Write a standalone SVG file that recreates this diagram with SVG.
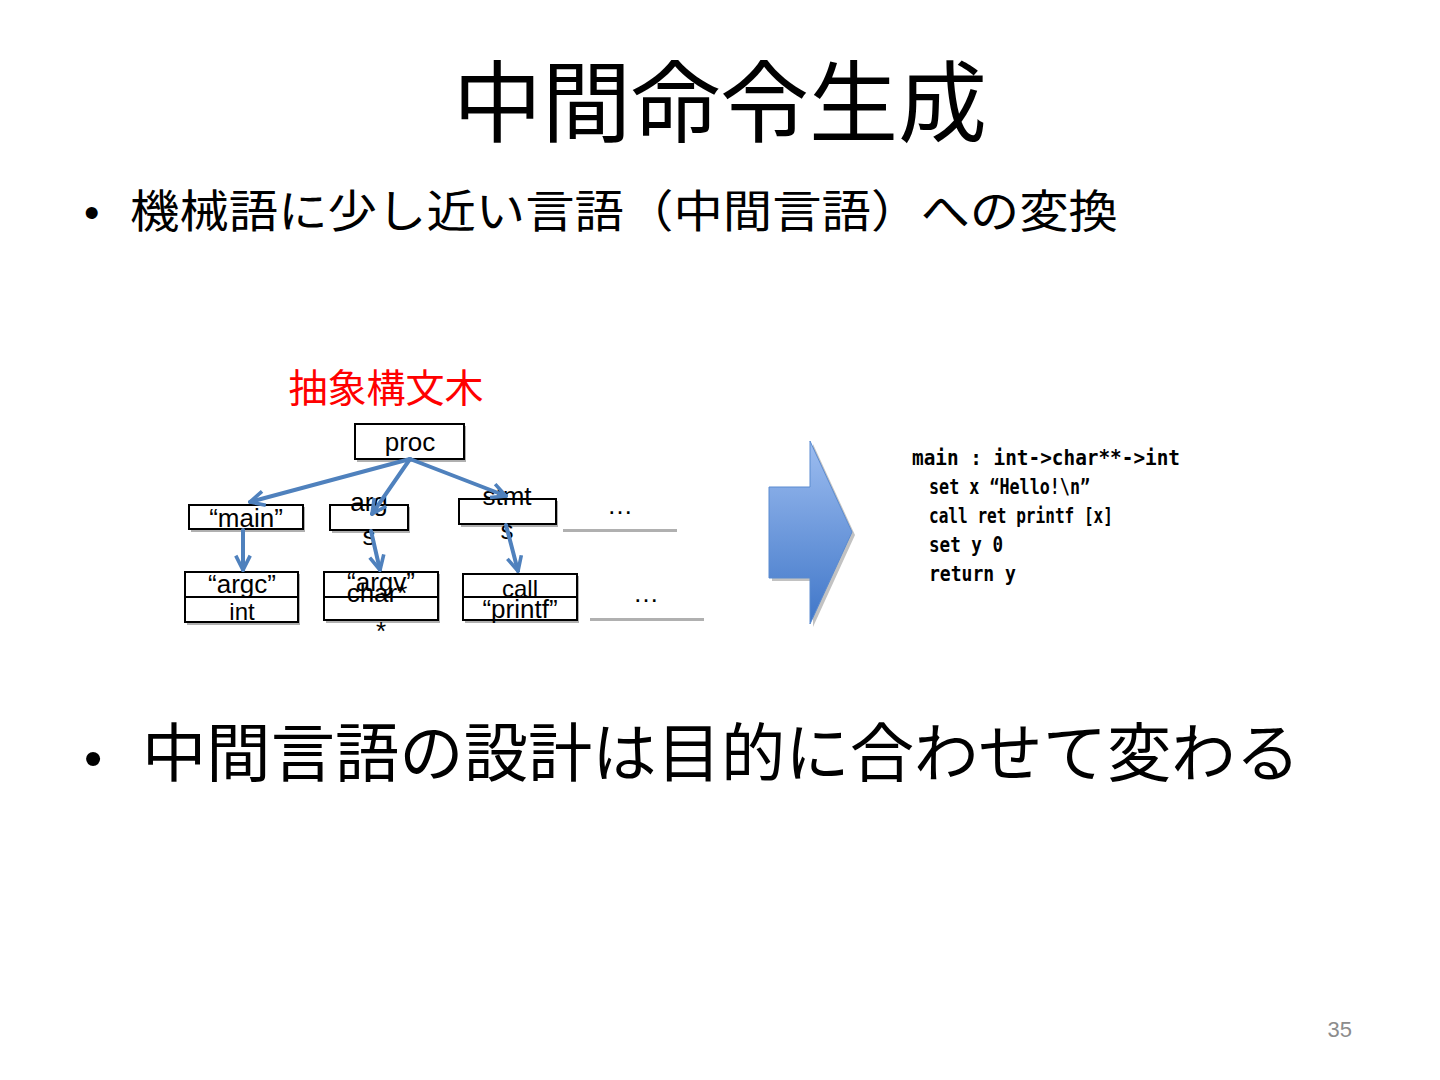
<svg xmlns="http://www.w3.org/2000/svg" width="1440" height="1080" viewBox="0 0 1440 1080">
<defs>
<style>
.jp{font-family:"Liberation Sans","Noto Sans CJK JP",sans-serif;}
.lbl{font-family:"Liberation Sans","Noto Sans CJK JP",sans-serif;font-size:26px;text-anchor:middle;fill:#000;}
.lbl2{font-family:"Liberation Sans","Noto Sans CJK JP",sans-serif;font-size:24px;text-anchor:middle;fill:#000;}
.box{fill:#fff;stroke:#000;stroke-width:2;}
.sh{fill:#b0b0b0;}
.code{font-family:"DejaVu Sans Mono","Liberation Mono",monospace;font-size:22px;font-weight:bold;fill:#000;}
.edge{stroke:#4f81bd;stroke-width:4;fill:none;stroke-linecap:round;}
</style>
<marker id="ah" viewBox="0 0 10 10" refX="9" refY="5" markerWidth="4.5" markerHeight="4.5" orient="auto" markerUnits="strokeWidth">
<path d="M1,1 L9,5 L1,9" fill="none" stroke="#4f81bd" stroke-width="2"/>
</marker>
<linearGradient id="bg" x1="0" y1="0" x2="0" y2="1">
<stop offset="0" stop-color="#9dbdf0"/>
<stop offset="1" stop-color="#3f76c8"/>
</linearGradient>
</defs>
<rect width="1440" height="1080" fill="#fff"/>

<text class="jp" x="720" y="135" font-size="89" text-anchor="middle">中間命令生成</text>
<g id="bullet1">
<text class="jp" x="84" y="228" font-size="44">•</text>
<text class="jp" x="130" y="228" font-size="45" textLength="988" lengthAdjust="spacingAndGlyphs">機械語に少し近い言語（中間言語）への変換</text>
</g>
<g id="bullet2">
<text class="jp" x="84" y="776" font-size="52">•</text>
<text class="jp" x="142" y="776" font-size="64" textLength="1158" lengthAdjust="spacingAndGlyphs">中間言語の設計は目的に合わせて変わる</text>
</g>
<text class="jp" x="1352" y="1037" font-size="22" fill="#8c8c8c" text-anchor="end">35</text>

<text id="ast-title" class="jp" x="386" y="402" font-size="39" fill="#ff0000" text-anchor="middle">抽象構文木</text>

<g id="n-proc"><rect class="sh" x="357" y="426" width="109" height="36"/><rect class="box" x="355" y="424" width="109" height="35"/><text class="lbl" x="410" y="451">proc</text></g>
<g id="n-main"><rect class="sh" x="191" y="507" width="114" height="25"/><rect class="box" x="189" y="505" width="114" height="24"/><text class="lbl" x="246" y="527">“main”</text></g>
<g id="n-args"><rect class="sh" x="332" y="507" width="78" height="26"/><rect class="box" x="330" y="505" width="78" height="25"/><text class="lbl" x="369" y="511">arg</text><text class="lbl" x="369" y="545">s</text></g>
<g id="n-stmts"><rect class="sh" x="461" y="501" width="97" height="26"/><rect class="box" x="459" y="499" width="97" height="25"/><text class="lbl" x="507" y="505">stmt</text><text class="lbl" x="507" y="539">s</text></g>
<g id="n-dots1"><rect x="563" y="492" width="113" height="38" fill="#fff"/><rect class="sh" x="563" y="529" width="114" height="3"/><text class="lbl" x="620" y="514">…</text></g>
<g id="n-argc"><rect class="sh" x="187" y="574" width="113" height="51"/><rect class="box" x="185" y="572" width="113" height="25"/><rect class="box" x="185" y="597" width="113" height="25"/><text class="lbl" x="242" y="593">“argc”</text><text class="lbl2" x="242" y="620">int</text></g>
<g id="n-argv"><rect class="sh" x="326" y="574" width="114" height="49"/><rect class="box" x="324" y="572" width="114" height="25"/><rect class="box" x="324" y="597" width="114" height="23"/><text class="lbl" x="381" y="591">“argv”</text><text class="lbl" x="377" y="602">char*</text><text class="lbl" x="381" y="640">*</text></g>
<g id="n-call"><rect class="sh" x="465" y="576" width="114" height="47"/><rect class="box" x="463" y="574" width="114" height="23"/><rect class="box" x="463" y="597" width="114" height="23"/><text class="lbl2" x="520" y="597">call</text><text class="lbl" x="520" y="618">“printf”</text></g>
<g id="n-dots2"><rect x="590" y="578" width="113" height="41" fill="#fff"/><rect class="sh" x="590" y="618" width="114" height="3"/><text class="lbl" x="646" y="602">…</text></g>

<g id="connectors">
<line class="edge" x1="410" y1="459" x2="250" y2="502" marker-end="url(#ah)"/>
<line class="edge" x1="410" y1="459" x2="372" y2="514" marker-end="url(#ah)"/>
<line class="edge" x1="410" y1="459" x2="506" y2="496" marker-end="url(#ah)"/>
<line class="edge" x1="243" y1="530" x2="243" y2="570" marker-end="url(#ah)"/>
<line class="edge" x1="371" y1="531" x2="380" y2="570" marker-end="url(#ah)"/>
<line class="edge" x1="506" y1="525" x2="518" y2="571" marker-end="url(#ah)"/>
</g>

<g id="big-arrow">
<path d="M772,490 L813,490 L813,444 L855,535 L813,627 L813,581 L772,581 Z" fill="#999" opacity="0.6"/>
<path d="M769,487 L810,487 L810,441 L852,532 L810,624 L810,578 L769,578 Z" fill="url(#bg)" stroke="#5b8bd0" stroke-width="1"/>
</g>

<g id="code">
<text class="code" x="912" y="465" textLength="268" lengthAdjust="spacingAndGlyphs">main : int-&gt;char**-&gt;int</text>
<text class="code" x="929" y="494" textLength="161" lengthAdjust="spacingAndGlyphs">set x “Hello!\n”</text>
<text class="code" x="929" y="523" textLength="184" lengthAdjust="spacingAndGlyphs">call ret printf [x]</text>
<text class="code" x="929" y="552" textLength="74" lengthAdjust="spacingAndGlyphs">set y 0</text>
<text class="code" x="929" y="581" textLength="87" lengthAdjust="spacingAndGlyphs">return y</text>
</g>
</svg>
